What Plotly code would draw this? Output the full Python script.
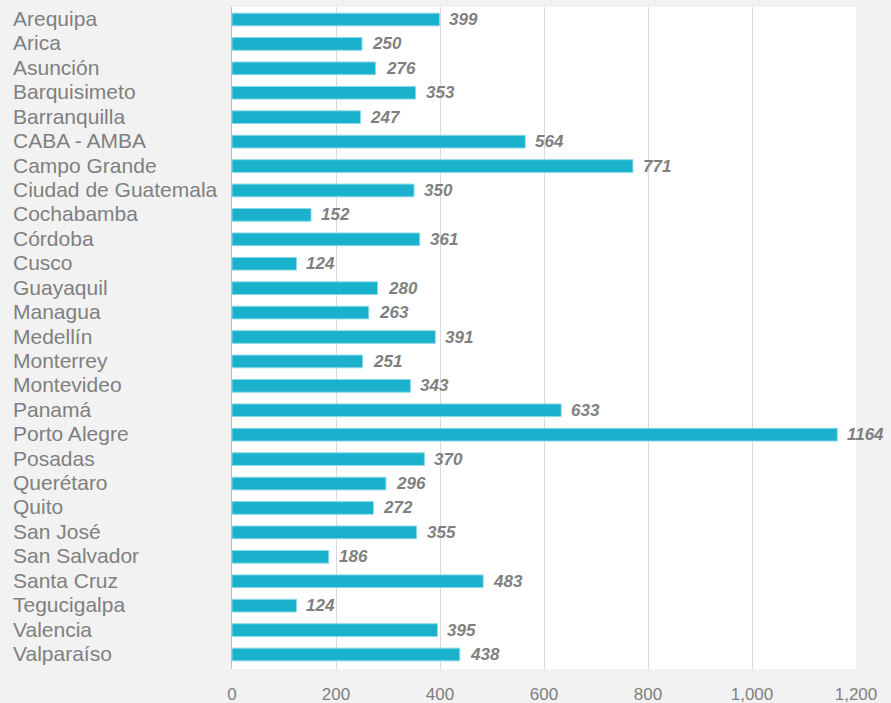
import plotly.graph_objects as go

cities = ["Arequipa", "Arica", "Asunción", "Barquisimeto", "Barranquilla", "CABA - AMBA",
          "Campo Grande", "Ciudad de Guatemala", "Cochabamba", "Córdoba", "Cusco", "Guayaquil",
          "Managua", "Medellín", "Monterrey", "Montevideo", "Panamá", "Porto Alegre", "Posadas",
          "Querétaro", "Quito", "San José", "San Salvador", "Santa Cruz", "Tegucigalpa",
          "Valencia", "Valparaíso"]
values = [399, 250, 276, 353, 247, 564, 771, 350, 152, 361, 124, 280, 263, 391, 251, 343,
          633, 1164, 370, 296, 272, 355, 186, 483, 124, 395, 438]
x_ticks = [0, 200, 400, 600, 800, 1000, 1200]
x_tick_labels = ["0", "200", "400", "600", "800", "1,000", "1,200"]

W, H = 891, 703
ml, mr, mt, mb = 232, 35, 7, 34
pw = W - ml - mr

fig = go.Figure()
fig.add_trace(go.Bar(
    y=cities, x=values, orientation="h", width=0.52,
    marker=dict(color="#1AB1CD", line=dict(color="#8AD9E8", width=1)),
    hoverinfo="x+y", showlegend=False,
))

annotations = []
for c, v in zip(cities, values):
    annotations.append(dict(
        x=v, y=c, xref="x", yref="y", text=str(v), showarrow=False,
        xanchor="left", yanchor="middle", xshift=8,
        font=dict(family="Liberation Sans, Arial", size=17, color="#7F7F7F", weight="bold", style="italic"),
    ))
for c in cities:
    annotations.append(dict(
        x=(11 - ml) / pw, y=c, xref="paper", yref="y", text=c, showarrow=False,
        xanchor="left", yanchor="middle", yshift=1,
        font=dict(family="Liberation Sans, Arial", size=21, color="#808080"),
    ))

fig.update_layout(
    width=W, height=H,
    margin=dict(l=ml, r=mr, t=mt, b=mb, autoexpand=False),
    paper_bgcolor="#F2F2F2", plot_bgcolor="#FFFFFF",
    annotations=annotations,
    xaxis=dict(range=[0, 1200], tickvals=x_ticks, ticktext=x_tick_labels,
               showgrid=True, gridcolor="#D9D9D9", gridwidth=1, zeroline=False,
               showline=False, ticks="", ticklabelstandoff=13, automargin=False,
               tickfont=dict(family="Liberation Sans, Arial", size=17, color="#7F7F7F")),
    yaxis=dict(autorange="reversed", showticklabels=False, showgrid=False, zeroline=False,
               showline=True, linecolor="#BFBFBF", linewidth=1, ticks="", automargin=False),
)

fig.write_html("out.html", config={"displayModeBar": False},
               post_script="document.body.style.margin='0';document.body.style.background='#F2F2F2';document.body.style.overflow='hidden';")
